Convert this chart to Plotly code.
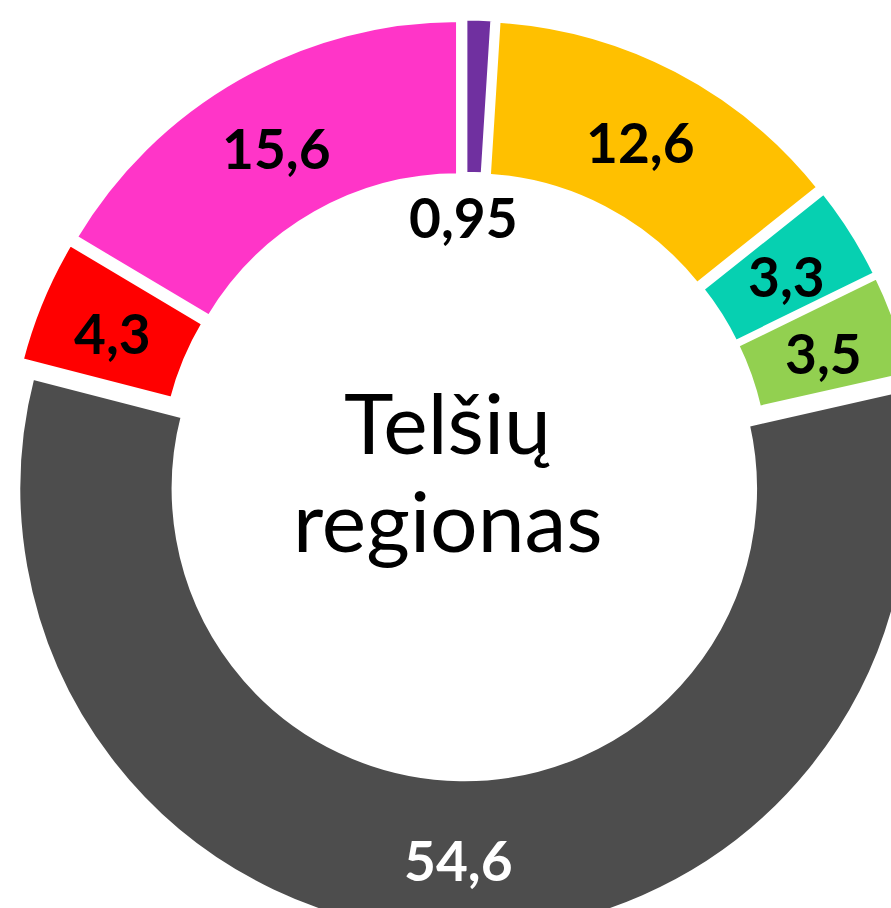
import math
import plotly.graph_objects as go

categories = ["A", "B", "C", "D", "E", "F", "G"]
values = [0.95, 12.6, 3.3, 3.5, 54.6, 4.3, 15.6]
colors = ["#7030A0", "#FFC000", "#06D0B1", "#92D050", "#4D4D4D", "#FF0000", "#FF35C8"]
text_colors = ["black", "black", "black", "black", "white", "black", "black"]
center_lines = ["Telšių", "regionas"]
small_label = "0,95"

W, H = 940, 950
L, T, D = 6, 18, 917
R = W - L - D
B = H - T - D
LABEL_R = 381 / D      # radial position of value labels (fraction of domain)
LABEL_DY = -3 / D      # optical correction for digit centering


def px(x):
    return (x - L) / D


def py(y):
    return 1 - (y - T) / D


def fmt(v):
    return f"{v:.1f}".replace(".", ",")


fig = go.Figure(
    go.Pie(
        labels=categories,
        values=values,
        hole=0.65,
        sort=False,
        direction="clockwise",
        rotation=0,
        pull=[0.027] * len(values),
        marker=dict(colors=colors, line=dict(color="white", width=5)),
        textinfo="none",
        showlegend=False,
        hoverinfo="none",
    )
)

annotations = []
total = sum(values)
cum = 0.0
for v, tc in zip(values, text_colors):
    mid = (cum + v / 2) / total * 2 * math.pi
    cum += v
    if v < 1:
        continue
    annotations.append(dict(
        text=fmt(v), x=0.5 + LABEL_R * math.sin(mid), y=0.5 + LABEL_R * math.cos(mid) + LABEL_DY,
        xref="paper", yref="paper", showarrow=False, xanchor="center", yanchor="middle",
        font=dict(family="Lato", size=55, color=tc, weight="bold"),
    ))

annotations += [
    dict(text=center_lines[0], x=px(447), y=py(421), xref="paper", yref="paper",
         showarrow=False, xanchor="center", yanchor="middle",
         font=dict(family="Lato", size=84, color="black")),
    dict(text=center_lines[1], x=px(448), y=py(519), xref="paper", yref="paper",
         showarrow=False, xanchor="center", yanchor="middle",
         font=dict(family="Lato", size=84, color="black")),
    dict(text=small_label, x=px(463.5), y=py(217), xref="paper", yref="paper",
         showarrow=False, xanchor="center", yanchor="middle",
         font=dict(family="Lato", size=55, color="black", weight="bold")),
]

fig.update_layout(
    width=W,
    height=H,
    autosize=False,
    margin=dict(l=L, r=R, t=T, b=B),
    paper_bgcolor="white",
    plot_bgcolor="white",
    annotations=annotations,
)

fig.write_html(
    "out.html",
    config={"displayModeBar": False},
    post_script="document.body.style.margin='0';document.body.style.overflow='hidden';"
    "document.documentElement.style.overflow='hidden';",
)
